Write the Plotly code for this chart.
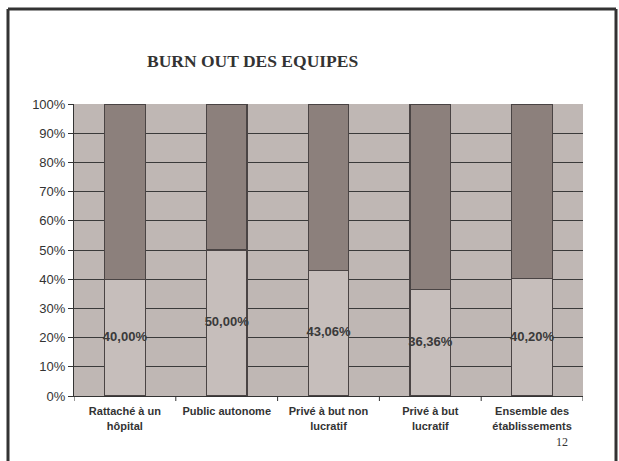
import plotly.graph_objects as go

categories = ["Rattaché à un<br>hôpital", "Public autonome", "Privé à but non<br>lucratif",
              "Privé à but<br>lucratif", "Ensemble des<br>établissements"]
burnout = [40.00, 50.00, 43.06, 36.36, 40.20]
rest = [100 - v for v in burnout]
labels = ["40,00%", "50,00%", "43,06%", "36,36%", "40,20%"]
y_ticks = [0, 10, 20, 30, 40, 50, 60, 70, 80, 90, 100]
y_tick_text = [f"{t}%" for t in y_ticks]

W, H = 619, 461
L, R, T, B = 74, 583, 104, 396
pw, ph = R - L, B - T


def px(x):
    return (x - L) / pw


def py(y):
    return (B - y) / ph


xs = list(range(len(categories)))

fig = go.Figure()
fig.add_trace(go.Bar(x=xs, y=burnout, width=0.4,
                     marker=dict(color="#C6BEBB", line=dict(color="#4A4444", width=1.2)),
                     hoverinfo="skip"))
fig.add_trace(go.Bar(x=xs, y=rest, width=0.4,
                     marker=dict(color="#8C807C", line=dict(color="#4A4444", width=1.2)),
                     hoverinfo="skip"))
fig.add_trace(go.Scatter(x=xs, y=[v / 2 for v in burnout], mode="text",
                         text=[f"<b>{t}</b>" for t in labels],
                         textfont=dict(family="Liberation Sans, Arial", size=13, color="#3A3A3A"),
                         textposition="middle center", hoverinfo="skip", cliponaxis=False))

fig.update_layout(
    width=W, height=H, barmode="stack", showlegend=False,
    margin=dict(l=L, r=W - R, t=T, b=H - B),
    paper_bgcolor="white", plot_bgcolor="#BFB7B4",
    font=dict(family="Liberation Sans, Arial", color="#333333"),
)
fig.update_xaxes(
    range=[-0.5, 4.5], tickmode="array", tickvals=xs, ticktext=[f"<b>{c}</b>" for c in categories],
    tickfont=dict(size=11, color="#333333"), showgrid=False, showline=True,
    linecolor="#333333", linewidth=1, ticks="", zeroline=False, fixedrange=True,
    ticklabelstandoff=5,
)
fig.update_yaxes(
    range=[0, 100], tickmode="array", tickvals=y_ticks, ticktext=y_tick_text,
    tickfont=dict(size=13, color="#333333"), showgrid=True, gridcolor="#3A3A3A", gridwidth=1,
    showline=True, linecolor="#333333", linewidth=1, ticks="outside", ticklen=5,
    tickcolor="#333333", zeroline=False, fixedrange=True,
)

shapes = []
# x-axis tick marks at category boundaries
for b in [-0.5, 0.5, 1.5, 2.5, 3.5, 4.5]:
    shapes.append(dict(type="line", xref="x", yref="paper", x0=b, x1=b, y0=0, y1=-5 / ph,
                       line=dict(color="#333333", width=1)))
# slide frame
fl, fr, ft, fb = 8, 616, 9, 475
for (x0, y0, x1, y1) in [(fl, ft, fr, ft), (fl, ft, fl, fb), (fr, ft, fr, fb)]:
    shapes.append(dict(type="line", xref="paper", yref="paper",
                       x0=px(x0), y0=py(y0), x1=px(x1), y1=py(y1),
                       line=dict(color="#333333", width=3)))
fig.update_layout(shapes=shapes)

fig.add_annotation(xref="paper", yref="paper", x=px(252), y=py(61), text="<b>BURN OUT DES EQUIPES</b>",
                   showarrow=False, xanchor="center", yanchor="middle",
                   font=dict(family="Liberation Serif, Times New Roman", size=17.5, color="#333333"))
fig.add_annotation(xref="paper", yref="paper", x=px(562), y=py(442), text="12",
                   showarrow=False, xanchor="center", yanchor="middle",
                   font=dict(family="Liberation Serif, Times New Roman", size=12, color="#333333"))

fig.write_html("out.html", config={"displayModeBar": False},
               post_script="document.body.style.margin='0';")
